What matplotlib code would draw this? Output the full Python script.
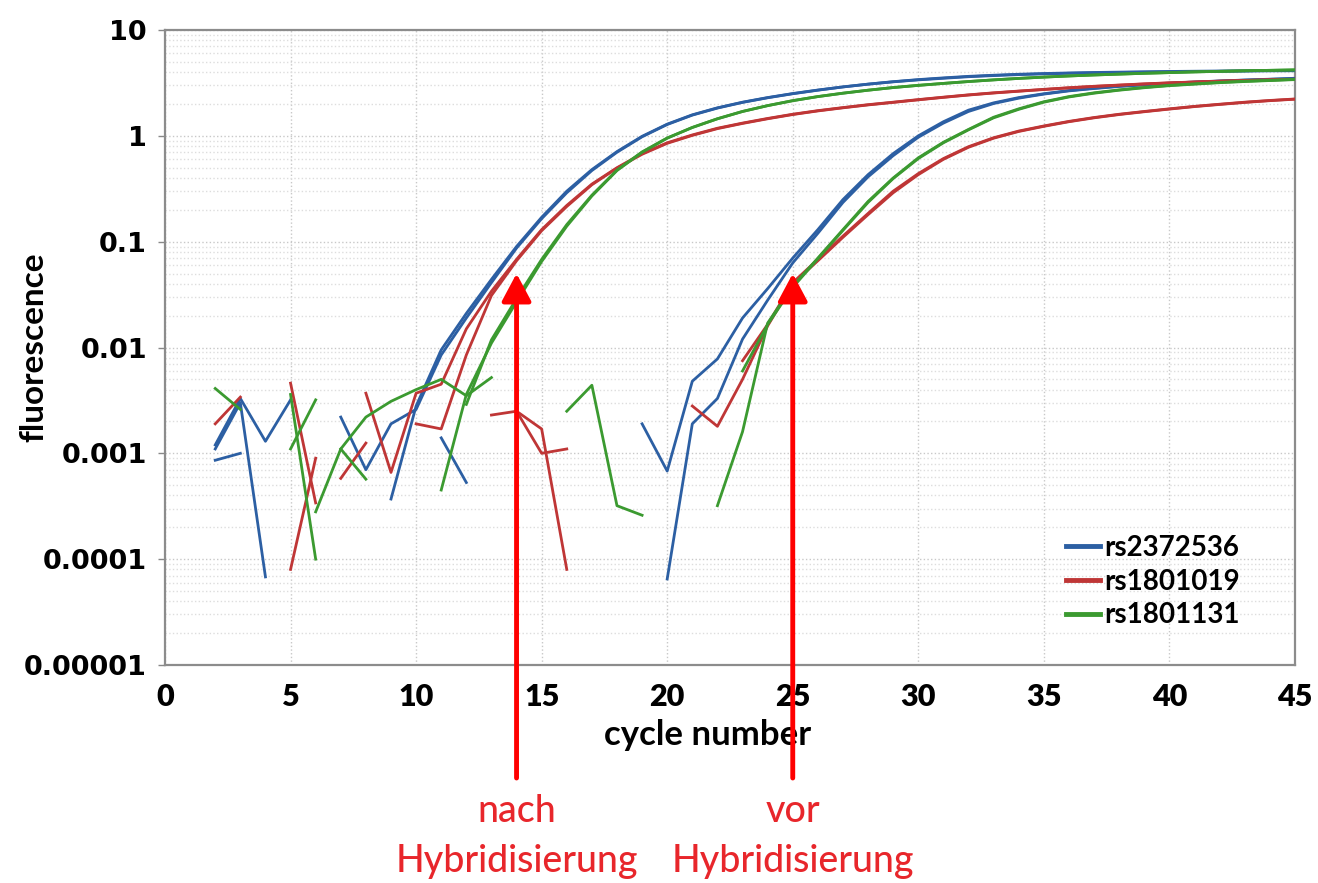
import numpy as np
import matplotlib
matplotlib.use("Agg")
import matplotlib.pyplot as plt
from matplotlib.ticker import FixedLocator, LogLocator, NullFormatter

N = np.nan
cycles = np.arange(1, 46)

# fluorescence per cycle (cycle 1..45), NaN = not plotted (<= 0 in log scale)
blue_nach_1 = [N, 0.0012, 0.0033, 0.0013, 0.0032, N, 0.0022, 0.0007, 0.0019, 0.0026,
               0.0085, 0.019, 0.041, 0.087, 0.165, 0.29, 0.47, 0.7, 0.98, 1.28,
               1.57, 1.83, 2.07, 2.29, 2.5, 2.7, 2.9, 3.08, 3.25, 3.4,
               3.53, 3.65, 3.74, 3.82, 3.88, 3.93, 3.97, 4.0, 4.03, 4.06,
               4.08, 4.1, 4.12, 4.14, 4.15]
blue_nach_2 = [N, 0.0011, 0.003, 6.8e-5, N, N, N, N, 0.00037, 0.0028,
               0.0095, 0.021, 0.044, 0.09, 0.17, 0.3, 0.48, 0.71, 0.99, 1.29,
               1.58, 1.84, 2.08, 2.3, 2.51, 2.71, 2.9, 3.08, 3.24, 3.38,
               3.5, 3.62, 3.71, 3.79, 3.85, 3.9, 3.94, 3.97, 4.0, 4.03,
               4.05, 4.07, 4.09, 4.11, 4.12]
blue_vor_1 = [N, 0.00086, 0.001, N, N, N, N, N, N, N,
              N, N, N, N, N, N, N, N, 0.0019, 0.00068,
              0.0048, 0.0078, 0.019, 0.036, 0.07, 0.13, 0.25, 0.43, 0.68, 1.0,
              1.36, 1.75, 2.05, 2.3, 2.5, 2.68, 2.82, 2.95, 3.05, 3.15,
              3.23, 3.3, 3.37, 3.43, 3.5]
blue_vor_2 = [N, N, N, N, N, N, N, N, N, N,
              0.0014, 0.00053, N, N, N, N, N, N, N, 6.5e-5,
              0.0019, 0.0033, 0.012, 0.028, 0.063, 0.12, 0.235, 0.41, 0.65, 0.97,
              1.32, 1.7, 2.02, 2.27, 2.48, 2.66, 2.8, 2.93, 3.03, 3.13,
              3.21, 3.29, 3.36, 3.42, 3.48]

red_nach_1 = [N, 0.0019, 0.0034, N, 0.0046, 0.00034, N, 0.0037, 0.00066, 0.0037,
              0.0045, 0.015, 0.034, 0.068, 0.13, 0.22, 0.35, 0.5, 0.68, 0.86,
              1.02, 1.18, 1.32, 1.46, 1.6, 1.73, 1.85, 1.97, 2.08, 2.2,
              2.32, 2.44, 2.55, 2.65, 2.75, 2.85, 2.94, 3.02, 3.1, 3.17,
              3.23, 3.29, 3.34, 3.39, 3.43]
red_nach_2 = [N, N, N, N, 8e-5, 0.0009, N, N, N, 0.0019,
              0.0017, 0.0085, 0.031, 0.066, 0.127, 0.215, 0.345, 0.495, 0.67, 0.85,
              1.01, 1.17, 1.31, 1.45, 1.59, 1.72, 1.84, 1.96, 2.07, 2.19,
              2.31, 2.43, 2.54, 2.64, 2.74, 2.84, 2.93, 3.01, 3.09, 3.16,
              3.22, 3.28, 3.33, 3.38, 3.42]
red_vor_1 = [N, N, N, N, N, N, 0.00058, 0.00125, N, N,
             N, N, 0.0023, 0.0025, 0.0017, 8e-5, N, N, N, N,
             0.0028, 0.0018, 0.005, 0.016, 0.04, 0.066, 0.11, 0.18, 0.29, 0.43,
             0.6, 0.78, 0.95, 1.1, 1.23, 1.36, 1.48, 1.59, 1.69, 1.79,
             1.89, 1.98, 2.07, 2.15, 2.22]
red_vor_2 = [N, N, N, N, N, N, N, N, N, N,
             N, N, N, 0.0025, 0.001, 0.0011, N, N, N, N,
             N, N, 0.0075, 0.0165, 0.041, 0.068, 0.113, 0.185, 0.3, 0.44,
             0.61, 0.79, 0.96, 1.11, 1.24, 1.37, 1.49, 1.6, 1.7, 1.8,
             1.9, 1.99, 2.08, 2.16, 2.23]

green_nach_1 = [N, 0.0041, 0.0026, N, 0.0011, 0.0032, N, N, N, N,
                0.00045, 0.0036, 0.011, 0.027, 0.065, 0.14, 0.27, 0.47, 0.7, 0.95,
                1.2, 1.45, 1.7, 1.93, 2.15, 2.35, 2.53, 2.7, 2.86, 3.0,
                3.13, 3.26, 3.38, 3.49, 3.59, 3.68, 3.76, 3.83, 3.9, 3.96,
                4.02, 4.07, 4.12, 4.16, 4.2]
green_nach_2 = [N, N, N, N, 0.0036, 0.0001, N, N, N, N,
                N, 0.0029, 0.0118, 0.029, 0.068, 0.145, 0.275, 0.475, 0.705, 0.955,
                1.2, 1.45, 1.7, 1.93, 2.15, 2.35, 2.53, 2.7, 2.86, 3.0,
                3.13, 3.26, 3.38, 3.49, 3.59, 3.68, 3.76, 3.83, 3.9, 3.96,
                4.02, 4.07, 4.12, 4.16, 4.2]
green_vor_1 = [N, N, N, N, N, 0.00028, 0.0011, 0.0022, 0.0031, 0.004,
               0.005, 0.0035, 0.0052, N, N, 0.0025, 0.0044, 0.00032, 0.00026, N,
               N, 0.00032, 0.0016, 0.017, 0.038, 0.07, 0.13, 0.24, 0.4, 0.62,
               0.87, 1.15, 1.5, 1.8, 2.1, 2.35, 2.55, 2.72, 2.87, 3.0,
               3.1, 3.2, 3.28, 3.35, 3.42]
green_vor_2 = [N, N, N, N, N, N, 0.0011, 0.00057, N, N,
               N, N, N, N, N, N, N, N, N, N,
               N, N, 0.006, 0.0165, 0.037, 0.069, 0.128, 0.235, 0.395, 0.61,
               0.86, 1.14, 1.48, 1.78, 2.08, 2.33, 2.53, 2.7, 2.85, 2.98,
               3.08, 3.18, 3.26, 3.33, 3.4]

snp_names = ["rs2372536", "rs1801019", "rs1801131"]
y_ticks = [1e-5, 1e-4, 1e-3, 1e-2, 1e-1, 1, 10]
y_tick_labels = ["0.00001", "0.0001", "0.001", "0.01", "0.1", "1", "10"]
x_ticks = [0, 5, 10, 15, 20, 25, 30, 35, 40, 45]
arrow_cycles = [14, 25]
arrow_texts = [("nach", "Hybridisierung"), ("vor", "Hybridisierung")]

plt.rcParams['font.family'] = ['Lato', 'DejaVu Sans']

colors = ['#2c5fa3', '#bf3636', '#3b9a30']
groups = [
    [blue_nach_1, blue_nach_2, blue_vor_1, blue_vor_2],
    [red_nach_1, red_nach_2, red_vor_1, red_vor_2],
    [green_nach_1, green_nach_2, green_vor_1, green_vor_2],
]

fig = plt.figure(figsize=(13.18, 8.83), dpi=100)
ax = fig.add_axes([0.1252, 0.2469, 0.8573, 0.7191])

for name, col, lines in zip(snp_names, colors, groups):
    for i, vals in enumerate(lines):
        ax.plot(cycles, vals, color=col, lw=2,
                label=name if i == 0 else None, zorder=3)

ax.set_yscale('log')
ax.set_xlim(0, 45)
ax.set_ylim(1e-5, 10)

ax.yaxis.set_major_locator(FixedLocator(y_ticks))
ax.set_yticklabels(y_tick_labels, fontfamily='DejaVu Sans',
                   fontweight='bold', fontsize=19.5)
ax.yaxis.set_minor_locator(LogLocator(base=10, subs=np.arange(2, 10)))
ax.yaxis.set_minor_formatter(NullFormatter())
ax.set_xticks(x_ticks)
ax.set_xticklabels([str(t) for t in x_ticks], fontweight='heavy', fontsize=22)
ax.tick_params(axis='y', which='major', length=5, width=1, color='#888888', pad=8)
ax.tick_params(axis='y', which='minor', length=0)
ax.tick_params(axis='x', length=0, pad=13)

ax.grid(True, which='major', axis='both', color='#c8c8c8', ls=':', lw=1)
ax.grid(True, which='minor', axis='y', color='#dddddd', ls=':', lw=1)
ax.set_axisbelow(True)

for s in ax.spines.values():
    s.set_color('#8c8c8c')
    s.set_linewidth(1.6)

ax.set_ylabel('fluorescence', fontsize=24, fontweight='bold')
ax.yaxis.set_label_coords(-0.103, 0.5)
ax.set_xlabel('cycle number', fontsize=25, fontweight='bold')
ax.xaxis.set_label_coords(0.48, -0.085)

leg = ax.legend(loc='upper left', bbox_to_anchor=(0.797, 0.205), frameon=False,
                prop={'weight': 'bold', 'size': 20}, handlelength=1.25,
                handletextpad=0.15, labelspacing=0.28, borderpad=0,
                borderaxespad=0)
for h in leg.get_lines():
    h.set_linewidth(3.5)

xa = ax.get_xaxis_transform()
for c, (t1, t2) in zip(arrow_cycles, arrow_texts):
    ax.annotate('', xy=(c, 0.05), xycoords='data',
                xytext=(c, -0.178), textcoords=xa,
                arrowprops=dict(arrowstyle='-|>,head_length=0.6,head_width=0.32',
                                color='#ff0000', lw=3.5, mutation_scale=28,
                                shrinkA=0, shrinkB=0),
                annotation_clip=False, zorder=5)
    ax.text(c, -0.231, t1, transform=xa, color='#e8262b', fontsize=27,
            fontweight='medium', ha='center', va='center')
    ax.text(c, -0.31, t2, transform=xa, color='#e8262b', fontsize=27,
            fontweight='medium', ha='center', va='center')

fig.savefig('out.png', dpi=100)
